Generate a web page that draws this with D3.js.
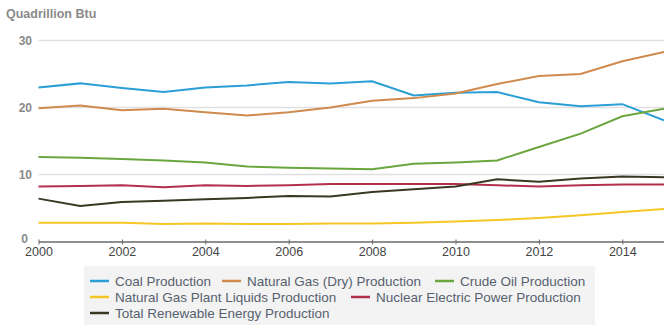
<!DOCTYPE html>
<html>
<head>
<meta charset="utf-8">
<script src="https://cdn.jsdelivr.net/npm/d3@7"></script>
<style>
  body { margin: 0; background: #fff; }
  svg { display: block; }
</style>
</head>
<body>
<script>
var years = [2000, 2001, 2002, 2003, 2004, 2005, 2006, 2007, 2008, 2009, 2010, 2011, 2012, 2013, 2014, 2015];

var coal = [23.0, 23.6, 22.9, 22.3, 23.0, 23.3, 23.8, 23.6, 23.9, 21.8, 22.2, 22.3, 20.8, 20.2, 20.5, 18.1];
var natGas = [19.9, 20.3, 19.6, 19.8, 19.3, 18.8, 19.3, 20.0, 21.0, 21.4, 22.1, 23.5, 24.7, 25.0, 26.9, 28.3];
var crudeOil = [12.6, 12.5, 12.3, 12.1, 11.8, 11.2, 11.0, 10.9, 10.8, 11.6, 11.8, 12.1, 14.1, 16.1, 18.7, 19.8];
var ngpl = [2.8, 2.8, 2.8, 2.6, 2.7, 2.6, 2.6, 2.7, 2.7, 2.8, 3.0, 3.2, 3.5, 3.9, 4.4, 4.85];
var nuclear = [8.2, 8.3, 8.4, 8.1, 8.4, 8.3, 8.4, 8.6, 8.6, 8.6, 8.6, 8.4, 8.2, 8.4, 8.5, 8.5];
var renewable = [6.4, 5.3, 5.9, 6.1, 6.3, 6.5, 6.8, 6.7, 7.4, 7.8, 8.2, 9.3, 8.9, 9.4, 9.7, 9.6];

var seriesNames = ["Coal Production", "Natural Gas (Dry) Production", "Crude Oil Production",
  "Natural Gas Plant Liquids Production", "Nuclear Electric Power Production", "Total Renewable Energy Production"];
var seriesColors = ["#2b9ed6", "#cf8a4d", "#6aa63e", "#f6c626", "#b3304c", "#3a3823"];
var yTicks = [0, 10, 20, 30];
var xTicks = [2000, 2002, 2004, 2006, 2008, 2010, 2012, 2014];

var allSeries = [coal, natGas, crudeOil, ngpl, nuclear, renewable];

var width = 664, height = 325;
var svg = d3.select("body").append("svg").attr("width", width).attr("height", height);

var x = d3.scaleLinear().domain([2000, 2015]).range([38.5, 664]);
var y = d3.scaleLinear().domain([0, 30]).range([241.5, 40.5]);

// axis title
svg.append("text")
  .attr("x", 6).attr("y", 18)
  .attr("font-family", "Liberation Sans, Arial, sans-serif")
  .attr("font-size", 12.5).attr("font-weight", "bold")
  .attr("fill", "#8a8a8a")
  .text("Quadrillion Btu");

// gridlines
svg.append("g").selectAll("line")
  .data(yTicks.filter(function (d) { return d > 0; }))
  .enter().append("line")
  .attr("x1", x(2000)).attr("x2", width)
  .attr("y1", function (d) { return y(d); })
  .attr("y2", function (d) { return y(d); })
  .attr("stroke", "#e0e0e0").attr("stroke-width", 1.5);

// y labels
svg.append("g").selectAll("text")
  .data(yTicks)
  .enter().append("text")
  .attr("x", function (d) { return d === 0 ? 28 : 32; })
  .attr("y", function (d) { return d === 0 ? y(d) + 1 : y(d) + 4; })
  .attr("text-anchor", "end")
  .attr("font-family", "Liberation Sans, Arial, sans-serif")
  .attr("font-size", 12).attr("font-weight", "bold")
  .attr("fill", "#8a8a8a")
  .text(function (d) { return d; });

// x axis
var xAxis = d3.axisBottom(x).tickValues(xTicks).tickFormat(d3.format("d")).tickSize(5).tickSizeOuter(0);
var gx = svg.append("g").attr("transform", "translate(0," + y(0) + ")").call(xAxis);
gx.select(".domain").attr("stroke", "#6a6a6a").attr("stroke-width", 1.5);
gx.selectAll(".tick line").attr("stroke", "#6a6a6a").attr("transform", "translate(0,-2)");
gx.selectAll(".tick text")
  .attr("font-family", "Liberation Sans Narrow, Arial Narrow, sans-serif")
  .attr("font-size", 12.5)
  .attr("fill", "#444")
  .attr("dy", "0.5em");

// lines
var line = d3.line()
  .x(function (d, i) { return x(years[i]); })
  .y(function (d) { return y(d); });

svg.append("g").selectAll("path")
  .data(allSeries)
  .enter().append("path")
  .attr("d", function (d) { return line(d); })
  .attr("fill", "none")
  .attr("stroke", function (d, i) { return seriesColors[i]; })
  .attr("stroke-width", 2);

// legend
var legend = svg.append("g");
legend.append("rect")
  .attr("x", 84).attr("y", 266).attr("width", 511).attr("height", 59)
  .attr("fill", "#f3f3f3");

var legendPos = [[90, 281], [222, 281], [435, 281], [90, 297], [351, 297], [90, 313]];
var items = legend.selectAll("g.item")
  .data(seriesNames)
  .enter().append("g")
  .attr("class", "item")
  .attr("transform", function (d, i) { return "translate(" + legendPos[i][0] + "," + legendPos[i][1] + ")"; });

items.append("line")
  .attr("x1", 0).attr("x2", 19)
  .attr("y1", 0).attr("y2", 0)
  .attr("stroke", function (d, i) { return seriesColors[i]; })
  .attr("stroke-width", 2.5);

items.append("text")
  .attr("x", 25).attr("y", 5)
  .attr("font-family", "Liberation Sans, Arial, sans-serif")
  .attr("font-size", 13.5)
  .attr("fill", "#56616f")
  .text(function (d) { return d; });
</script>
</body>
</html>
